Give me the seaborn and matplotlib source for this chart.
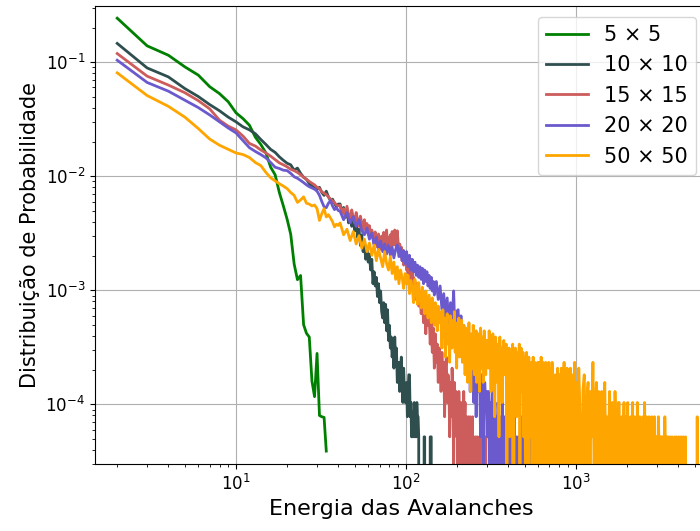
import numpy as np
import pandas as pd
import matplotlib
matplotlib.use("Agg")
import matplotlib.pyplot as plt
import seaborn as sns

# probabilidade de uma unica avalanche (1 contagem)
UNIT = 2.6e-5

rotulos = ["5 × 5", "10 × 10", "15 × 15", "20 × 20", "50 × 50"]
cores = ["green", "darkslategray", "indianred", "slateblue", "orange"]

# ---- 5 x 5 : energias 2..34
p5 = [0.243, 0.139, 0.115, 0.091, 0.077, 0.061, 0.053, 0.045, 0.036, 0.032,
      0.028, 0.022, 0.019, 0.016, 0.012, 0.0103, 0.0072, 0.0055, 0.0042, 0.0031,
      0.0017, 0.00124, 0.00135, 0.0005, 0.00042, 0.00039, 0.00016, 0.000117,
      0.00028, 0.00008, 0.000078, 0.000077, 0.000039]

# ---- 10 x 10 : energias 2..40 (prob), 41..142 (contagens)
p10 = [0.146, 0.089, 0.0743, 0.0587, 0.050, 0.0425, 0.0375, 0.033, 0.030, 0.0271,
       0.0255, 0.0236, 0.021, 0.019, 0.0172, 0.0162, 0.0148, 0.0138, 0.0130, 0.0126,
       0.0113, 0.0118, 0.0106, 0.0098, 0.0094, 0.0086, 0.0082, 0.0079, 0.0077, 0.0080,
       0.0072, 0.0068, 0.0074, 0.0066, 0.0061, 0.0063, 0.0058, 0.0054, 0.0057]
c10 = [220, 185, 205, 168, 190, 150, 178, 140, 160, 128, 150, 112, 132, 95, 118,
       84, 100, 72, 90, 68,
       80, 58, 72, 44, 56, 42, 50, 34, 44, 30, 38, 25, 22, 30, 20, 29, 17, 26, 14, 19,
       12, 15, 10, 14, 8, 15, 9, 12, 6,
       6, 9, 5, 8, 10, 6, 4, 8, 5, 4,
       4, 6, 3, 5, 7, 7, 3, 4, 2, 3,
       2, 3, 4, 2, 3, 2, 4, 3, 3, 2,
       0, 0, 0, 0, 1, 0, 0, 0, 2, 2,
       0, 0, 0, 0, 0, 0, 0, 0, 0, 2,
       2, 2, 0]

# ---- 15 x 15 : energias 2..40 (prob), 41..120 (contagens), 121..299 passo 2
p15 = [0.119, 0.0754, 0.063, 0.054, 0.046, 0.039, 0.031, 0.0275, 0.0255, 0.0225,
       0.0194, 0.0184, 0.0170, 0.0160, 0.0150, 0.0140, 0.0131, 0.0126, 0.0121, 0.0115,
       0.0112, 0.0108, 0.0103, 0.0098, 0.0094, 0.0090, 0.0087, 0.0084, 0.0080, 0.0078,
       0.0073, 0.0071, 0.0069, 0.0066, 0.0063, 0.0061, 0.0059, 0.0056, 0.0055]
c15a = [215, 185, 200, 170, 210, 178, 160, 195, 168, 150, 185, 158, 140, 172, 150,
        128, 160, 135, 148, 120,
        142, 112, 130, 118, 98, 125, 108, 92, 120, 100, 88, 115, 96, 124, 90, 108,
        130, 94, 112, 102,
        118, 90, 126, 104, 96, 130, 110, 88, 128, 100, 84, 98, 76, 92, 70, 86, 64,
        80, 70, 76,
        58, 72, 55, 66, 48, 60, 52, 44, 56, 40, 50, 36, 46, 42, 32, 44, 30, 38, 28, 34]
c15b = [36, 24, 33, 20, 30, 16, 26, 19, 24, 13,
        20, 11, 18, 8, 16, 9, 13, 6, 12, 10,
        5, 11, 6, 9, 3, 8, 10, 4, 7, 6,
        2, 6, 3, 8, 5, 1, 6, 4, 5, 2,
        4, 0, 5, 1, 3, 4, 0, 3, 2, 5,
        2, 4, 0, 3, 0, 2, 3, 1, 0, 3,
        2, 0, 1, 3, 0, 2, 0, 0, 2, 1,
        0, 2, 1, 0, 0, 2, 1, 0, 0, 2,
        0, 1, 0, 2, 0, 0, 0, 2, 0, 0]

# ---- 20 x 20 : energias 2..40 (prob), 41..149 passo 2, 151..599 passo 4
p20 = [0.104, 0.0664, 0.0557, 0.0464, 0.0400, 0.0345, 0.030, 0.0265, 0.0240, 0.0205,
       0.0178, 0.0165, 0.0155, 0.0145, 0.0132, 0.0120, 0.0117, 0.0113, 0.0112, 0.0106,
       0.0099, 0.0096, 0.0092, 0.0088, 0.0084, 0.0081, 0.0079, 0.0077, 0.0074, 0.0068,
       0.0060, 0.0054, 0.0053, 0.0058, 0.0061, 0.0055, 0.0051, 0.0053, 0.0050]
c20a = [190, 160, 185, 150, 170, 140, 160, 128, 118, 135, 108, 122, 96, 112, 90,
        104, 84, 98, 80, 96, 78, 92, 74, 88, 96, 76, 90, 70, 86, 66, 84, 62, 78, 58,
        72, 56, 68, 52, 64, 50, 62, 48, 60, 44, 58, 46, 56, 42, 52, 40, 50, 38, 46,
        35, 44]
c20b = [46, 32, 42, 26, 36, 22, 33, 18, 30, 20, 38, 14, 25,
        26, 12, 23, 10, 19, 9, 17, 7, 14, 5, 12, 8, 4,
        10, 3, 8, 5, 9, 2, 7, 5, 1, 6, 4, 5, 2,
        5, 1, 4, 3, 6, 0, 3, 4, 1, 3, 2, 4, 0,
        3, 1, 2, 4, 0, 0, 3, 2, 0, 3, 2, 0, 2,
        1, 3, 0, 0, 2, 1, 3, 0, 2, 2, 0, 0, 2,
        2, 0, 1, 2, 0, 3, 0, 0, 2, 1, 0, 2, 1,
        0, 2, 0, 0, 2, 0, 1, 3, 0, 1, 0, 2, 0,
        1, 0, 2, 0, 1, 0, 1, 0, 0]

# ---- 50 x 50 : energias 2..40 (prob), 41..299 passo 2, 301..997 passo 4, 1001.. passo 20
p50 = [0.0806, 0.0510, 0.0410, 0.0330, 0.0262, 0.0212, 0.0187, 0.0172, 0.0160, 0.0155,
       0.0146, 0.0132, 0.0124, 0.0108, 0.0097, 0.0091, 0.0086, 0.0082, 0.0078, 0.0072,
       0.0068, 0.0059, 0.0062, 0.0066, 0.0058, 0.0057, 0.0055, 0.0056, 0.0052, 0.0041,
       0.0047, 0.0052, 0.0044, 0.0046, 0.0043, 0.0040, 0.0036, 0.0038, 0.0037]
c50a = [150, 118, 132, 105, 126, 98, 116, 90, 108, 84, 100, 78, 96, 70, 88, 74, 62,
        84, 66, 58, 76, 54, 68, 48, 62, 44, 58, 50, 40, 54,
        44, 52, 36, 47, 40, 30, 48, 38, 29, 45, 33, 27, 41, 30, 24, 38, 28, 22, 35,
        26, 20, 33, 24, 19, 30, 22, 17, 28, 20, 25,
        20, 12, 26, 15, 22, 10, 18, 24, 13, 19, 9, 23, 16, 12, 21, 14, 25, 11, 17,
        8, 20, 15, 22, 10, 18, 13, 21, 9, 16, 19,
        13, 7, 18, 10, 15, 6, 12, 20, 9, 14, 5, 16, 11, 8, 19, 12, 7, 15, 10, 17,
        6, 13, 9, 16, 11, 5, 14, 18, 8, 12, 10, 15, 6, 13, 17, 9, 11, 7, 14, 10]
c50b = [14, 8, 17, 11, 5, 13, 16, 9, 3, 15, 11, 6, 13, 2, 15, 9, 12, 4, 11, 14, 7, 10, 13, 1, 11,
        8, 12, 2, 6, 11, 9, 13, 0, 10, 5, 12, 9, 3, 11, 6, 10, 13, 1, 9, 12, 5, 8, 11, 2, 7,
        10, 1, 8, 11, 5, 9, 0, 10, 4, 8, 2, 6, 9, 1, 7, 10, 3, 5, 9, 0, 8, 6, 2, 8, 9,
        1, 5, 9, 0, 8, 2, 10, 3, 7, 0, 9, 6, 2, 8, 1, 4, 9, 0, 6, 8, 1, 7, 3, 9, 0,
        4, 8, 1, 3, 7, 0, 9, 4, 1, 2, 7, 5, 0, 3, 6, 1, 7, 5, 1, 6, 8, 0, 5, 7, 1,
        6, 0, 7, 2, 5, 8, 1, 6, 4, 0, 5, 2, 6, 9, 1, 5, 3, 0, 4, 6, 2, 5, 8, 1, 3,
        5, 7, 0, 6, 2, 5, 1, 8, 3, 0, 6, 1, 4, 7, 0, 5, 4, 2, 6, 1, 3, 9, 0, 2, 5]
c50c = [6, 1, 8, 3, 0, 5, 7, 1, 4, 6, 0, 5, 2, 9, 1, 3, 6, 0, 5, 4,
        1, 5, 0, 4, 6, 1, 3, 0, 2, 5, 1, 0, 4, 2, 0, 5, 1, 3, 0, 4,
        4, 0, 1, 3, 0, 2, 4, 1, 3, 0, 2, 4, 0, 1, 2, 3, 0, 1, 4, 0,
        1, 3, 0, 2, 0, 4, 1, 2, 0, 3, 0, 1, 2, 0, 3, 1, 0, 4, 1, 2,
        3, 0, 1, 2, 0, 3, 0, 2, 1, 0, 3, 0, 2, 1, 0, 3, 1, 0, 2, 1,
        2, 0, 1, 3, 2, 2, 2, 2, 2, 0, 1, 2, 2, 2, 2, 1, 0, 3, 1, 2,
        2, 1, 0, 1, 2, 0, 1, 0, 1, 2, 0, 1, 1, 0, 2, 0, 1, 0, 0, 1,
        0, 2, 0, 1, 0, 0, 2, 1, 0, 0, 1, 0, 2, 0, 1, 0, 0, 0, 2, 0,
        0, 1, 0, 0, 2, 0, 0, 1, 0, 0, 0, 2, 0, 0, 1, 0, 0, 0, 0, 0,
        0, 0, 1, 0, 0, 0, 0, 0, 0, 1, 0, 0, 0, 0, 0, 0, 0, 0, 0, 0,
        0, 0, 0, 0, 0, 1, 0, 0, 0, 3, 0]


def serie(cabeca, trechos):
    """energias inteiras 2..40 com probabilidade, depois trechos de contagens"""
    x = list(np.arange(2, 2 + len(cabeca)))
    y = list(cabeca)
    for inicio, passo, cont in trechos:
        x += list(inicio + passo * np.arange(len(cont)))
        y += list(np.array(cont) * UNIT)
    return np.array(x, dtype=float), np.array(y)


series = [
    serie(p5, []),
    serie(p10, [(41, 1, c10)]),
    serie(p15, [(41, 1, c15a), (121, 2, c15b)]),
    serie(p20, [(41, 2, c20a), (151, 4, c20b)]),
    serie(p50, [(41, 2, c50a), (301, 4, c50b), (1001, 20, c50c)]),
]

fig = plt.figure(figsize=(7, 5.31), dpi=100)
ax = fig.add_axes([0.1357, 0.126, 0.874, 0.8625])

for (x, y), rot, cor in zip(series, rotulos, cores):
    df = pd.DataFrame({"Energia": x, "Prob": y})
    sns.lineplot(data=df, x="Energia", y="Prob", color=cor, label=rot,
                 lw=2, ax=ax, estimator=None, sort=False)

ax.set_xscale("log")
ax.set_yscale("log")
ax.set_xlim(1.48, 5900)
ax.set_ylim(3e-5, 0.31)
ax.grid(True, which="major", color="#b0b0b0", lw=0.8)
ax.set_xlabel("Energia das Avalanches", fontsize=16)
ax.set_ylabel("Distribuição de Probabilidade", fontsize=15)
ax.tick_params(labelsize=12)
ax.legend(loc="upper right", fontsize=15)

fig.savefig("out.png", dpi=100)
